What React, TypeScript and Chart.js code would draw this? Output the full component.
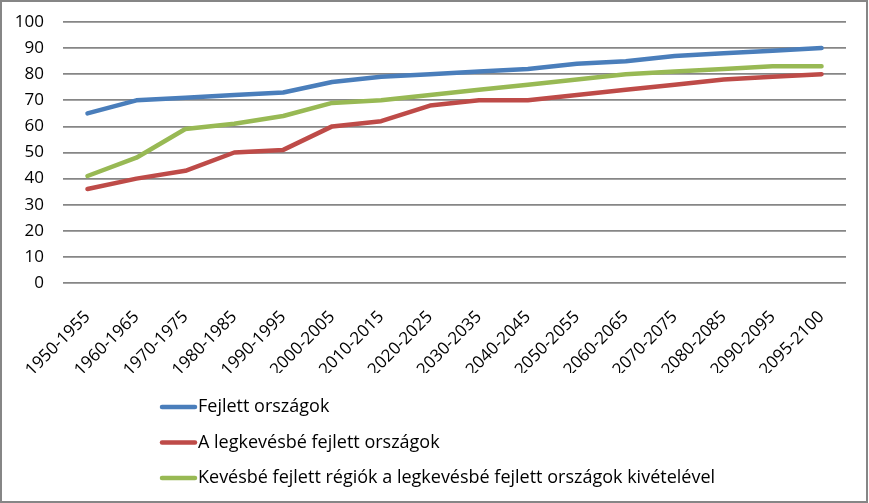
import React, { useEffect, useRef } from "react";
import { Chart, registerables } from "chart.js";

Chart.register(...registerables);

const categories = [
  "1950-1955", "1960-1965", "1970-1975", "1980-1985", "1990-1995", "2000-2005",
  "2010-2015", "2020-2025", "2030-2035", "2040-2045", "2050-2055", "2060-2065",
  "2070-2075", "2080-2085", "2090-2095", "2095-2100",
];
const developed = [65, 70, 71, 72, 73, 77, 79, 80, 81, 82, 84, 85, 87, 88, 89, 90];
const leastDeveloped = [36, 40, 43, 50, 51, 60, 62, 68, 70, 70, 72, 74, 76, 78, 79, 80];
const lessDevelopedExcl = [41, 48, 59, 61, 64, 69, 70, 72, 74, 76, 78, 80, 81, 82, 83, 83];
const seriesLabels = [
  "Fejlett országok",
  "A legkevésbé fejlett országok",
  "Kevésbé fejlett régiók a legkevésbé fejlett országok kivételével",
];
const seriesColors = ["#4A7EBB", "#BE4B48", "#98B954"];
const yMin = 0;
const yMax = 100;
const yStep = 10;

const FONT_FAMILY = "'Open Sans', 'Liberation Sans', sans-serif";

const framePlugin = {
  id: "frame",
  beforeDraw(chart: any) {
    const ctx = chart.ctx;
    ctx.save();
    ctx.fillStyle = "#ffffff";
    ctx.fillRect(0, 0, chart.width, chart.height);
    ctx.restore();
  },
  afterDraw(chart: any) {
    const ctx = chart.ctx;
    ctx.save();
    ctx.strokeStyle = "#868686";
    ctx.lineWidth = 2;
    ctx.strokeRect(1, 1, chart.width - 3, chart.height - 2);
    ctx.restore();
  },
};

const legendPlugin = {
  id: "verticalLegend",
  afterDraw(chart: any) {
    const ctx = chart.ctx;
    ctx.save();
    chart.data.datasets.forEach((ds: any, i: number) => {
      const y = 407 + i * 35.5;
      ctx.strokeStyle = ds.borderColor;
      ctx.lineWidth = 4.5;
      ctx.lineCap = "round";
      ctx.beginPath();
      ctx.moveTo(162, y);
      ctx.lineTo(195, y);
      ctx.stroke();
      ctx.fillStyle = "#000000";
      ctx.font = `18px ${FONT_FAMILY}`;
      ctx.textBaseline = "middle";
      ctx.textAlign = "left";
      ctx.fillText(ds.label, 198, y);
    });
    ctx.restore();
  },
};

export default function App() {
  const canvasRef = useRef<HTMLCanvasElement | null>(null);

  useEffect(() => {
    if (!canvasRef.current) return;
    const series = [developed, leastDeveloped, lessDevelopedExcl];
    const chart = new Chart(canvasRef.current, {
      type: "line",
      data: {
        labels: categories,
        datasets: series.map((data, i) => ({
          label: seriesLabels[i],
          data,
          borderColor: seriesColors[i],
          backgroundColor: seriesColors[i],
          borderWidth: 4.5,
          pointRadius: 0,
          pointHoverRadius: 0,
          tension: 0,
          borderCapStyle: "round" as const,
          borderJoinStyle: "round" as const,
          fill: false,
        })),
      },
      options: {
        responsive: false,
        animation: false,
        events: [],
        layout: { padding: { top: 22, right: 23, bottom: 130, left: 0 } },
        plugins: {
          legend: { display: false },
          tooltip: { enabled: false },
          title: { display: false },
        },
        scales: {
          x: {
            offset: true,
            grid: { display: false, drawTicks: false },
            border: { display: false },
            ticks: {
              autoSkip: false,
              maxRotation: 45,
              minRotation: 45,
              padding: 24,
              color: "#000000",
              font: { family: FONT_FAMILY, size: 17 },
            },
            afterFit: (s: any) => {
              s.height = 90;
              s.paddingLeft = 0;
              s.paddingRight = 0;
            },
          },
          y: {
            min: yMin,
            max: yMax,
            ticks: {
              stepSize: yStep,
              padding: 19,
              color: "#000000",
              font: { family: FONT_FAMILY, size: 17 },
            },
            grid: { color: "#868686", lineWidth: 1.7, drawTicks: false },
            border: { display: false },
            afterFit: (s: any) => {
              s.width = 63;
              s.paddingTop = 0;
              s.paddingBottom = 0;
            },
          },
        },
      },
      plugins: [framePlugin, legendPlugin],
    });
    return () => chart.destroy();
  }, []);

  return (
    <div style={{ position: "absolute", left: 0, top: 0, width: 869, height: 503 }}>
      <canvas ref={canvasRef} width={869} height={503} />
    </div>
  );
}
